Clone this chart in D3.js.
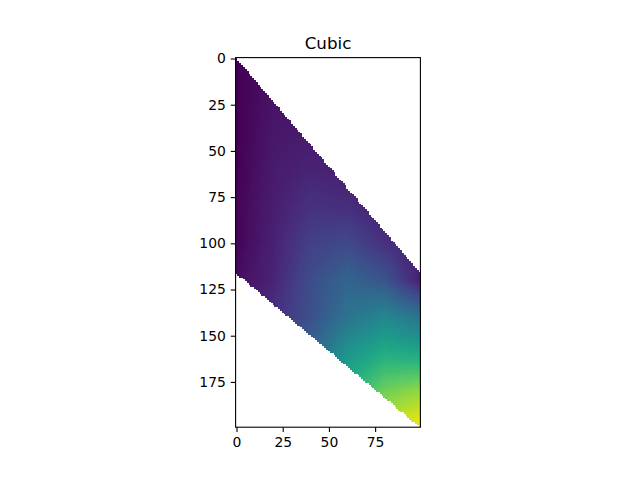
<!DOCTYPE html>
<html>
<head>
<meta charset="utf-8">
<script src="https://cdn.jsdelivr.net/npm/d3@7"></script>
<style>
  body { margin: 0; background: #fff; }
  text { font-family: "DejaVu Sans", sans-serif; }
</style>
</head>
<body>
<div id="chart"></div>
<script>
// grid size of the image (columns x rows)
var nCols = 100;
var nRows = 200;

var colKnots = [0, 20, 40, 60, 80, 100];
var rowKnots = [0, 20, 40, 60, 80, 100, 120, 140, 160, 180, 200];

// values (0..1, viridis) at each knot row, one entry per knot column
var z_r0   = [0.00, 0.04, 0.05, 0.05, 0.05, 0.05];
var z_r20  = [0.00, 0.05, 0.05, 0.05, 0.05, 0.05];
var z_r40  = [0.00, 0.06, 0.07, 0.06, 0.05, 0.05];
var z_r60  = [0.00, 0.07, 0.10, 0.08, 0.06, 0.05];
var z_r80  = [0.01, 0.08, 0.14, 0.13, 0.08, 0.05];
var z_r100 = [0.01, 0.09, 0.19, 0.22, 0.14, 0.08];
var z_r120 = [0.03, 0.10, 0.23, 0.32, 0.26, 0.08];
var z_r140 = [0.06, 0.14, 0.24, 0.38, 0.46, 0.38];
var z_r160 = [0.10, 0.20, 0.32, 0.52, 0.62, 0.60];
var z_r180 = [0.15, 0.30, 0.45, 0.64, 0.78, 0.84];
var z_r200 = [0.20, 0.40, 0.55, 0.75, 0.92, 1.00];
var zRows = [z_r0, z_r20, z_r40, z_r60, z_r80, z_r100, z_r120, z_r140, z_r160, z_r180, z_r200];

// outline of the filled region (convex hull), in data coords
var hullX = [-0.5, 99.5, 99.5, -0.5];
var hullY = [-0.6, 116.2, 199.8, 116.0];

var xTicks = [0, 25, 50, 75];
var yTicks = [0, 25, 50, 75, 100, 125, 150, 175];
var title = "Cubic";

//Setting up the figure
var svgWidth = 640;
var svgHeight = 480;
var plot = { left: 235.6, right: 420.4, top: 57.6, bottom: 427.2 };

var svg = d3.select("#chart")
  .append("svg")
  .attr("width", svgWidth)
  .attr("height", svgHeight);

var xScale = d3.scaleLinear().domain([-0.5, nCols - 0.5]).range([plot.left, plot.right]);
var yScale = d3.scaleLinear().domain([-0.5, nRows - 0.5]).range([plot.top, plot.bottom]);
var color = d3.scaleSequential(d3.interpolateViridis).domain([0, 1]);

//One scale per knot column, interpolating down the rows
var colScales = colKnots.map(function(c, j) {
  return d3.scaleLinear().domain(rowKnots).range(zRows.map(function(row) { return row[j]; }));
});

var hull = hullX.map(function(x, i) { return [x, hullY[i]]; });

//Paint the image cells into a small canvas
var canvas = document.createElement("canvas");
canvas.width = nCols;
canvas.height = nRows;
var ctx = canvas.getContext("2d");
var img = ctx.createImageData(nCols, nRows);

for (var r = 0; r < nRows; r++) {
  var rowScale = d3.scaleLinear()
    .domain(colKnots)
    .range(colScales.map(function(s) { return s(r); }))
    .clamp(true);
  for (var c = 0; c < nCols; c++) {
    var k = (r * nCols + c) * 4;
    if (!d3.polygonContains(hull, [c, r])) {
      img.data[k + 3] = 0;
      continue;
    }
    var rgb = d3.rgb(color(rowScale(c)));
    img.data[k] = rgb.r;
    img.data[k + 1] = rgb.g;
    img.data[k + 2] = rgb.b;
    img.data[k + 3] = 255;
  }
}
ctx.putImageData(img, 0, 0);

svg.append("image")
  .attr("x", xScale(-0.5))
  .attr("y", yScale(-0.5))
  .attr("width", xScale(nCols - 0.5) - xScale(-0.5))
  .attr("height", yScale(nRows - 0.5) - yScale(-0.5))
  .attr("preserveAspectRatio", "none")
  .style("image-rendering", "pixelated")
  .attr("href", canvas.toDataURL());

//Axes
var tickLen = 4.86;
var bottomAxis = d3.axisBottom(xScale).tickValues(xTicks).tickSize(tickLen).tickPadding(4.86);
var leftAxis = d3.axisLeft(yScale).tickValues(yTicks).tickSize(tickLen).tickPadding(4.86);

var gx = svg.append("g")
  .attr("transform", "translate(0," + plot.bottom + ")")
  .call(bottomAxis);
var gy = svg.append("g")
  .attr("transform", "translate(" + plot.left + ",0)")
  .call(leftAxis);

[gx, gy].forEach(function(g) {
  g.select(".domain").remove();
  g.selectAll(".tick line").attr("stroke", "#000").attr("stroke-width", 1.1);
  g.selectAll(".tick text")
    .attr("fill", "#000")
    .style("font-family", "DejaVu Sans")
    .style("font-size", "13.9px");
});

//Frame around the image
svg.append("rect")
  .attr("x", plot.left)
  .attr("y", plot.top)
  .attr("width", plot.right - plot.left)
  .attr("height", plot.bottom - plot.top)
  .attr("fill", "none")
  .attr("stroke", "#000")
  .attr("stroke-width", 1.1);

//Title
svg.append("text")
  .attr("x", (plot.left + plot.right) / 2)
  .attr("y", plot.top - 8.3)
  .attr("text-anchor", "middle")
  .style("font-size", "16.7px")
  .text(title);
</script>
</body>
</html>
